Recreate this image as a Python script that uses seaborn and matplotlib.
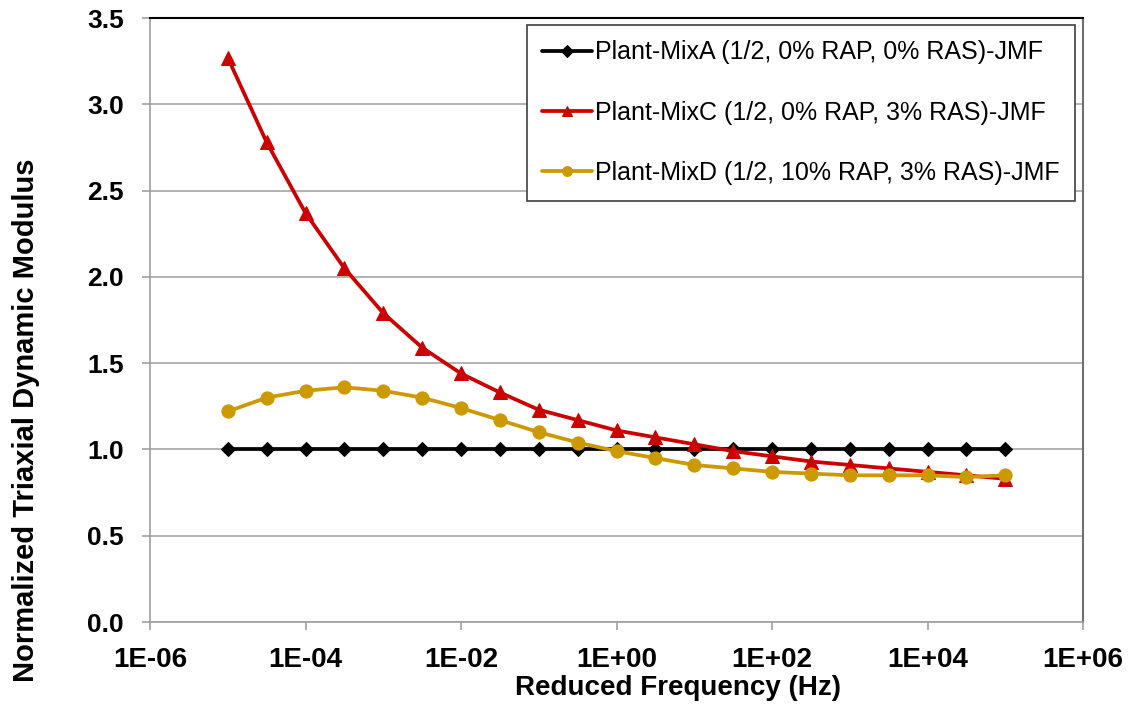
import numpy as np
import matplotlib
matplotlib.use("Agg")
import matplotlib.pyplot as plt
import seaborn as sns

freq = [1e-5, 10**-4.5, 1e-4, 10**-3.5, 1e-3, 10**-2.5, 1e-2, 10**-1.5, 1e-1, 10**-0.5,
        1e0, 10**0.5, 1e1, 10**1.5, 1e2, 10**2.5, 1e3, 10**3.5, 1e4, 10**4.5, 1e5]
mix_a = [1.0] * 21
mix_c = [3.27, 2.78, 2.37, 2.05, 1.79, 1.59, 1.44, 1.33, 1.23, 1.17, 1.11,
         1.07, 1.03, 0.99, 0.96, 0.93, 0.91, 0.89, 0.87, 0.85, 0.83]
mix_d = [1.22, 1.30, 1.34, 1.36, 1.34, 1.30, 1.24, 1.17, 1.10, 1.04, 0.99,
         0.95, 0.91, 0.89, 0.87, 0.86, 0.85, 0.85, 0.85, 0.84, 0.85]
labels = ["Plant-MixA (1/2, 0% RAP, 0% RAS)-JMF",
          "Plant-MixC (1/2, 0% RAP, 3% RAS)-JMF",
          "Plant-MixD (1/2, 10% RAP, 3% RAS)-JMF"]
xticks = [1e-6, 1e-4, 1e-2, 1e0, 1e2, 1e4, 1e6]
xticklabels = ["1E-06", "1E-04", "1E-02", "1E+00", "1E+02", "1E+04", "1E+06"]
yticks = [0.0, 0.5, 1.0, 1.5, 2.0, 2.5, 3.0, 3.5]

sns.set_theme(style="white")
plt.rcParams['font.family'] = ['Liberation Sans', 'DejaVu Sans']
plt.rcParams['text.color'] = 'black'
plt.rcParams['axes.labelcolor'] = 'black'
plt.rcParams['xtick.labelcolor'] = 'black'
plt.rcParams['ytick.labelcolor'] = 'black'

fig = plt.figure(figsize=(11.33, 7.08), dpi=100)
ax = fig.add_axes([150/1133, 86/708, 933/1133, 604/708])

series = [(mix_a, "black", "D", 7.5), (mix_c, "#CC0000", "^", 9.5), (mix_d, "#CC9900", "o", 9.5)]
for (vals, col, mk, ms), lab in zip(series, labels):
    sns.lineplot(x=freq, y=vals, ax=ax, color=col, marker=mk, markersize=ms,
                 markeredgecolor=col, linewidth=2.7, label=lab, zorder=3)

ax.set_xscale("log")
ax.set_xlim(1e-6, 1e6)
ax.set_ylim(0, 3.5)
ax.set_xticks(xticks)
ax.set_xticklabels(xticklabels)
ax.xaxis.set_minor_locator(matplotlib.ticker.NullLocator())
ax.set_yticks(yticks)
ax.set_yticklabels([f"{v:.1f}" for v in yticks])

ax.yaxis.grid(True, color="#a6a6a6", linewidth=1.2)
ax.xaxis.grid(False)
ax.set_axisbelow(True)

for side in ["left", "bottom"]:
    ax.spines[side].set_color("#a0a0a0")
    ax.spines[side].set_linewidth(1.2)
ax.spines["top"].set_color("black")
ax.spines["top"].set_linewidth(1.5)
ax.spines["right"].set_color("#707070")
ax.spines["right"].set_linewidth(1.5)

ax.tick_params(axis="both", which="major", direction="out", length=6, width=1.2,
               color="#a0a0a0", bottom=True, left=True, labelcolor="black")
ax.tick_params(axis="y", labelsize=19, pad=13)
ax.tick_params(axis="x", labelsize=20, pad=12)
for t in ax.get_yticklabels() + ax.get_xticklabels():
    t.set_fontweight("bold")

ax.set_xlabel("Reduced Frequency (Hz)", fontsize=20, fontweight="bold", color="black")
ax.xaxis.label.set_va("center")
ax.xaxis.set_label_coords((678-150)/933, (622-688)/604)
ax.set_ylabel("Normalized Triaxial Dynamic Modulus", fontsize=21, fontweight="bold", color="black")
ax.yaxis.label.set_va("center")
ax.yaxis.set_label_coords((26-150)/933, (622-420)/604)

leg = ax.legend(loc="upper right", bbox_to_anchor=((1075-150)/933, (622-25)/604),
                fontsize=18, frameon=True, fancybox=False, shadow=False,
                handlelength=2.0, handletextpad=0.1, labelspacing=1.45,
                borderpad=0.62, borderaxespad=0, markerscale=0.75)
leg.get_frame().set_edgecolor("#404040")
leg.get_frame().set_linewidth(1.2)
leg.get_frame().set_alpha(1)
for t in leg.get_texts():
    t.set_color("black")

fig.savefig("out.png", dpi=100)
